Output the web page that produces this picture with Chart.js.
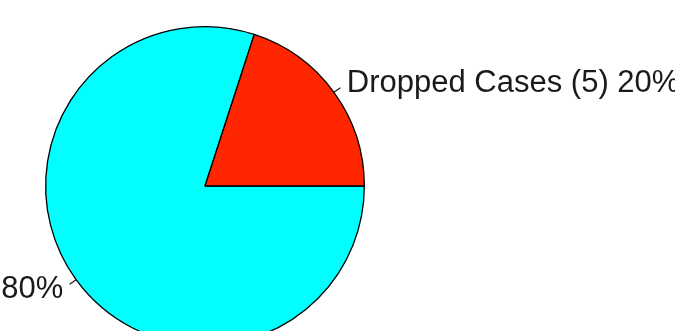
<!DOCTYPE html>
<html>
<head>
<meta charset="utf-8">
<script src="https://cdn.jsdelivr.net/npm/chart.js@4"></script>
<style>
  html, body { margin: 0; padding: 0; background: #fff; overflow: hidden; }
  #wrap { width: 675px; height: 331px; overflow: hidden; }
</style>
</head>
<body>
<div id="wrap"><canvas id="caseChart" width="675" height="372"></canvas></div>
<script>
const categories = ['Completed Cases', 'Dropped Cases'];
const caseCounts = [20, 5];
const sliceColors = ['#00ffff', '#ff2600'];

const total = caseCounts.reduce((a, b) => a + b, 0);
const sliceLabels = categories.map((c, i) =>
    `${c} (${caseCounts[i]}) ${Math.round(caseCounts[i] / total * 100)}%`);

// Labels sit just outside the pie with a short tick pointing at each slice
const outsideLabels = {
    id: 'outsideLabels',
    afterDraw(chart) {
        const ctx = chart.ctx;
        const arcs = chart.getDatasetMeta(0).data;
        ctx.save();
        ctx.font = '31px "Liberation Sans", Arial, sans-serif';
        ctx.fillStyle = '#1a1a1a';
        ctx.strokeStyle = '#1a1a1a';
        ctx.lineWidth = 1.2;
        ctx.textBaseline = 'middle';
        arcs.forEach((arc, i) => {
            const { x, y, startAngle, endAngle, outerRadius } = arc.getProps(
                ['x', 'y', 'startAngle', 'endAngle', 'outerRadius'], true);
            const mid = (startAngle + endAngle) / 2;
            const cx = Math.cos(mid), cy = Math.sin(mid);
            ctx.beginPath();
            ctx.moveTo(x + cx * outerRadius, y + cy * outerRadius);
            ctx.lineTo(x + cx * outerRadius * 1.05, y + cy * outerRadius * 1.05);
            ctx.stroke();
            ctx.textAlign = cx >= 0 ? 'left' : 'right';
            ctx.fillText(sliceLabels[i], x + cx * outerRadius * 1.1, y + cy * outerRadius * 1.1);
        });
        ctx.restore();
    }
};

const pieCtx = document.getElementById('caseChart').getContext('2d');
new Chart(pieCtx, {
    type: 'pie',
    data: {
        labels: categories,
        datasets: [{
            data: caseCounts,
            backgroundColor: sliceColors,
            borderColor: '#000',
            borderWidth: 1.3
        }]
    },
    options: {
        responsive: false,
        animation: false,
        rotation: 90, // start at 3 o'clock
        layout: { padding: { left: 45, right: 310, top: 26, bottom: 26 } },
        plugins: {
            legend: { display: false },
            tooltip: { enabled: false }
        }
    },
    plugins: [outsideLabels]
});
</script>
</body>
</html>
